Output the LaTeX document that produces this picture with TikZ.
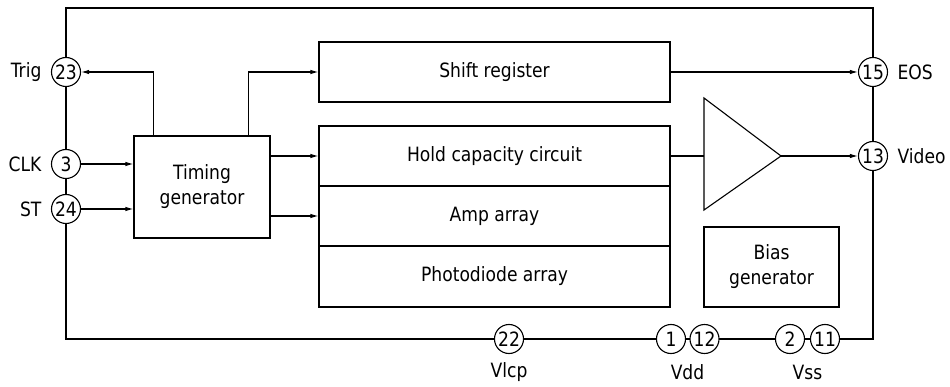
\documentclass[tikz,border=0pt]{standalone}
\usepackage{fontspec}
\setmainfont{DejaVu Sans}[FakeStretch=0.87]
\usetikzlibrary{arrows.meta}
\begin{document}
\begin{tikzpicture}[x=1pt,y=-1pt,
  line width=1.1pt,
  every node/.style={font=\fontsize{19.7}{25}\selectfont, inner sep=0pt},
  blk/.style={draw, rectangle, align=center},
  pin/.style={draw, circle, fill=white, minimum size=29pt, inner sep=0pt},
  arr/.style={-{Latex[length=8pt,width=4.5pt]}}]
\useasboundingbox (0,0) rectangle (950,387);
% frame
\draw (66,8) rectangle (873,339);
% blocks
\node[blk, minimum width=136pt, minimum height=102pt] (timing) at (202,187) {Timing\\generator};
\node[blk, minimum width=351pt, minimum height=60pt] (shift) at (494.5,72) {Shift register};
\node[blk, minimum width=351pt, minimum height=60pt] (hold) at (494.5,156) {Hold capacity circuit};
\node[blk, minimum width=351pt, minimum height=60pt] (amp) at (494.5,216) {Amp array};
\node[blk, minimum width=351pt, minimum height=61pt] (photo) at (494.5,276.5) {Photodiode array};
\node[blk, minimum width=135pt, minimum height=80pt] (bias) at (771.5,267) {Bias\\generator};
% amplifier triangle
\coordinate (ampin) at (704,156);
\coordinate (ampout) at (781,156);
\draw (704,98) -- (ampout) -- (704,210) -- cycle;
% pins
\node[pin] (p23) at (66,72) {23};
\node[pin] (p3) at (66,164) {3};
\node[pin] (p24) at (66,209) {24};
\node[pin] (p15) at (873,72) {15};
\node[pin] (p13) at (873,156) {13};
\node[pin] (p22) at (509,339) {22};
\node[pin] (p1) at (671,339) {1};
\node[pin] (p12) at (704.5,339) {12};
\node[pin] (p2) at (790,339) {2};
\node[pin] (p11) at (825,339) {11};
% pin labels
\node[anchor=east] (ltrig) at ([xshift=-9pt]p23.west) {Trig};
\node[anchor=east] (lclk) at ([xshift=-9pt]p3.west) {CLK};
\node[anchor=east] (lst) at ([xshift=-9pt]p24.west) {ST};
\node[anchor=west] (leos) at ([xshift=9pt]p15.east) {EOS};
\node[anchor=west] (lvideo) at ([xshift=9pt]p13.east) {Video};
\node (lvlcp) at (509,372) {Vlcp};
\node (lvdd) at (687.5,372) {Vdd};
\node (lvss) at (807.5,372) {Vss};
% connectors
\draw[arr] ([xshift=20pt]timing.north west) |- (p23);
\draw[arr] ([xshift=-22pt]timing.north east) |- (shift.west);
\draw[arr] (p3) -- (timing.west |- p3);
\draw[arr] (p24) -- (timing.west |- p24);
\draw[arr] (timing.east |- hold.west) -- (hold.west);
\draw[arr] (timing.east |- amp.west) -- (amp.west);
\draw[arr] (shift.east) -- (p15);
\draw (hold.east) -- (ampin);
\draw[arr] (ampout) -- (p13);
\end{tikzpicture}
\end{document}
